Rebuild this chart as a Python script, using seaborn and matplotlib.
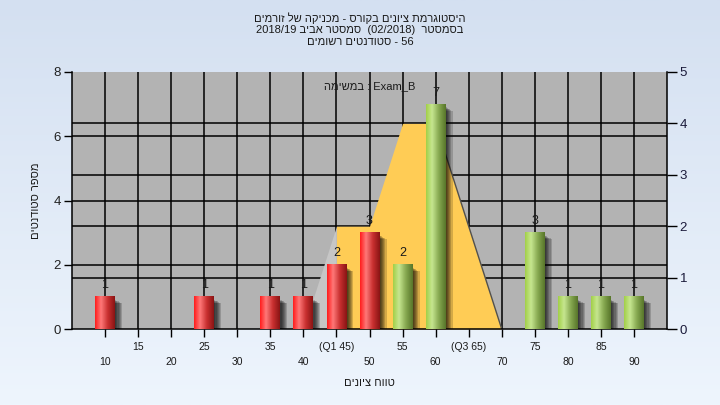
import numpy as np
import pandas as pd
import matplotlib
matplotlib.use("Agg")
import matplotlib.pyplot as plt
import seaborn as sns
from matplotlib.colors import LinearSegmentedColormap
from matplotlib.patches import Rectangle

# ---------------- data ----------------
grades = [10, 15, 20, 25, 30, 35, 40, 45, 50, 55, 60, 65, 70, 75, 80, 85, 90]
counts = [1, 0, 0, 1, 0, 1, 1, 2, 3, 2, 7, 0, 0, 3, 1, 1, 1]
tick_labels = ["10", "15", "20", "25", "30", "35", "40", "(Q1 45)", "50",
               "55", "60", "(Q3 65)", "70", "75", "80", "85", "90"]
area_grades = [40, 45, 50, 55, 60, 70]
area_values = [0, 2, 2, 4, 4, 0]
median_split = 50

def vis(s):
    """visual (left-to-right) order for a Hebrew run"""
    return s[::-1]

title1 = vis("היסטוגרמת ציונים בקורס - מכניקה של זורמים")
title2 = "2018/19 " + vis("סמסטר אביב") + "  (02/2018)  " + vis("בסמסטר")
title3 = vis("סטודנטים רשומים") + " - 56"
xlab = vis("טווח ציונים")
ylab = vis("מספר סטודנטים")
legend_txt = vis("במשימה") + " : Exam_B"

# ---------------- style ----------------
sns.set_theme(style="white")
plt.rcParams["font.family"] = ["Liberation Sans", "DejaVu Sans"]
TXT = "#1a1a1a"

fig = plt.figure(figsize=(7.2, 4.05), dpi=100)

# background gradient
bg = fig.add_axes([0, 0, 1, 1], zorder=-10)
grad = np.linspace(0, 1, 256)[:, None]
bg_cmap = LinearSegmentedColormap.from_list("bg", ["#d4e0f1", "#eef5fd"])
bg.imshow(grad, cmap=bg_cmap, aspect="auto", extent=[0, 1, 0, 1])
bg.set_axis_off()

ax = fig.add_axes([72 / 720, 1 - 329 / 405, (667 - 72) / 720, (329 - 72) / 405])
ax2 = ax.twinx()
ax2.set_zorder(ax.get_zorder() - 1)
ax.patch.set_visible(False)
ax2.patch.set_visible(True)
ax2.patch.set_facecolor("#b3b3b3")

df = pd.DataFrame({"grade": [str(g) for g in grades], "count": counts})
cats = df["grade"].tolist()
bar_colors = ["#e82020" if g <= median_split else "#94c04a" for g in grades]

sns.barplot(data=df, x="grade", y="count", hue="grade", order=cats,
            hue_order=cats, palette=bar_colors, width=0.6, saturation=1,
            legend=False, ax=ax, zorder=3)

ax.set_xlim(-1, len(cats))
ax.set_ylim(0, 8)
ax2.set_ylim(0, 5)

# --------- right-axis area (drawn below bars) ---------
pos = [cats.index(str(g)) for g in area_grades]
ax2.fill_between(pos[:2], area_values[:2], color="#c6c6c6", lw=0, zorder=2)
ax2.fill_between(pos[1:], area_values[1:], color="#ffcc55", lw=0, zorder=2)
ax2.plot(pos[-2:], area_values[-2:], color="#505050", lw=1.0, zorder=2.5)

# grid lines (under the area)
for v in [1, 2, 3, 4]:
    ax2.axhline(v, color="black", lw=1.1, zorder=1)
for v in [2, 4, 6]:
    ax2.plot([0, 1], [v, v], transform=ax.get_yaxis_transform(),
             color="black", lw=1.1, zorder=1)
ax2.vlines(range(len(cats)), 0, 5, color="black", lw=1.1, zorder=1)

# --------- cylinder-style bars with shadows ---------
red_cmap = LinearSegmentedColormap.from_list(
    "r", [(0, "#ff1c1c"), (0.3, "#ff7878"), (0.65, "#c83030"), (1, "#8a1414")])
green_cmap = LinearSegmentedColormap.from_list(
    "g", [(0, "#a2d048"), (0.3, "#c6e690"), (0.65, "#86a850"), (1, "#58762a")])
gx = np.linspace(0, 1, 64)[None, :]
for p, g in zip(ax.patches, grades):
    p.set_visible(False)
    h = p.get_height()
    if h <= 0:
        continue
    x, w = p.get_x(), p.get_width()
    for k in range(6):
        ax.add_patch(Rectangle((x + 0.04 + 0.035 * k, 0), w, max(h - 0.10 - 0.02 * k, 0),
                               facecolor="black", alpha=0.17, lw=0, zorder=2.5))
    cm = red_cmap if g <= median_split else green_cmap
    ax.imshow(gx, cmap=cm, aspect="auto", extent=[x, x + w, 0, h],
              zorder=3.5, interpolation="bilinear")

ax.set_xlim(-1, len(cats))
ax.set_ylim(0, 8)

for c in ax.containers:
    labs = [str(int(v)) if v > 0 else "" for v in c.datavalues]
    ax.bar_label(c, labels=labs, padding=4, fontsize=9, color=TXT, zorder=5)

# --------- axes / ticks ---------
ax.grid(False)
ax2.grid(False)
ax.set_xticks(range(len(cats)))
ax.set_xticklabels([("\n" + t) if i % 2 == 0 else t for i, t in enumerate(tick_labels)],
                   fontsize=7.5, color=TXT)
for lbl in ax.get_xticklabels():
    lbl.set_linespacing(1.65)
ax.set_yticks([0, 2, 4, 6, 8])
ax.tick_params(axis="y", labelsize=9.5, labelcolor="#222222", direction="out",
               length=6, width=1, color="black", left=True, pad=2)
ax.tick_params(axis="x", direction="out", length=6, width=1, color="black",
               bottom=True, pad=3)
ax2.set_yticks([0, 1, 2, 3, 4, 5])
ax2.tick_params(axis="y", labelsize=9.5, labelcolor="#1a1a3a", direction="out",
                length=7, width=1, color="black", right=True, pad=2)

for s in ["top", "right"]:
    ax.spines[s].set_visible(False)
for s in ["top", "left", "bottom"]:
    ax2.spines[s].set_visible(False)
for s in ["left", "bottom"]:
    ax.spines[s].set_color("black")
    ax.spines[s].set_linewidth(1.1)
ax2.spines["right"].set_color("black")
ax2.spines["right"].set_linewidth(1.1)

ax.set_xlabel(xlab, fontsize=8, color=TXT, labelpad=8)
ax.set_ylabel(ylab, fontsize=8, color=TXT, labelpad=9)

ax.text(0.5, 0.945, legend_txt, transform=ax.transAxes, ha="center", va="center",
        fontsize=8, color=TXT, zorder=6)

for i, t in enumerate([title1, title2, title3]):
    fig.text(0.5, 1 - (18 + 12 * i) / 405, t, ha="center", va="center",
             fontsize=8, color=TXT)

fig.savefig("out.png", dpi=100)
